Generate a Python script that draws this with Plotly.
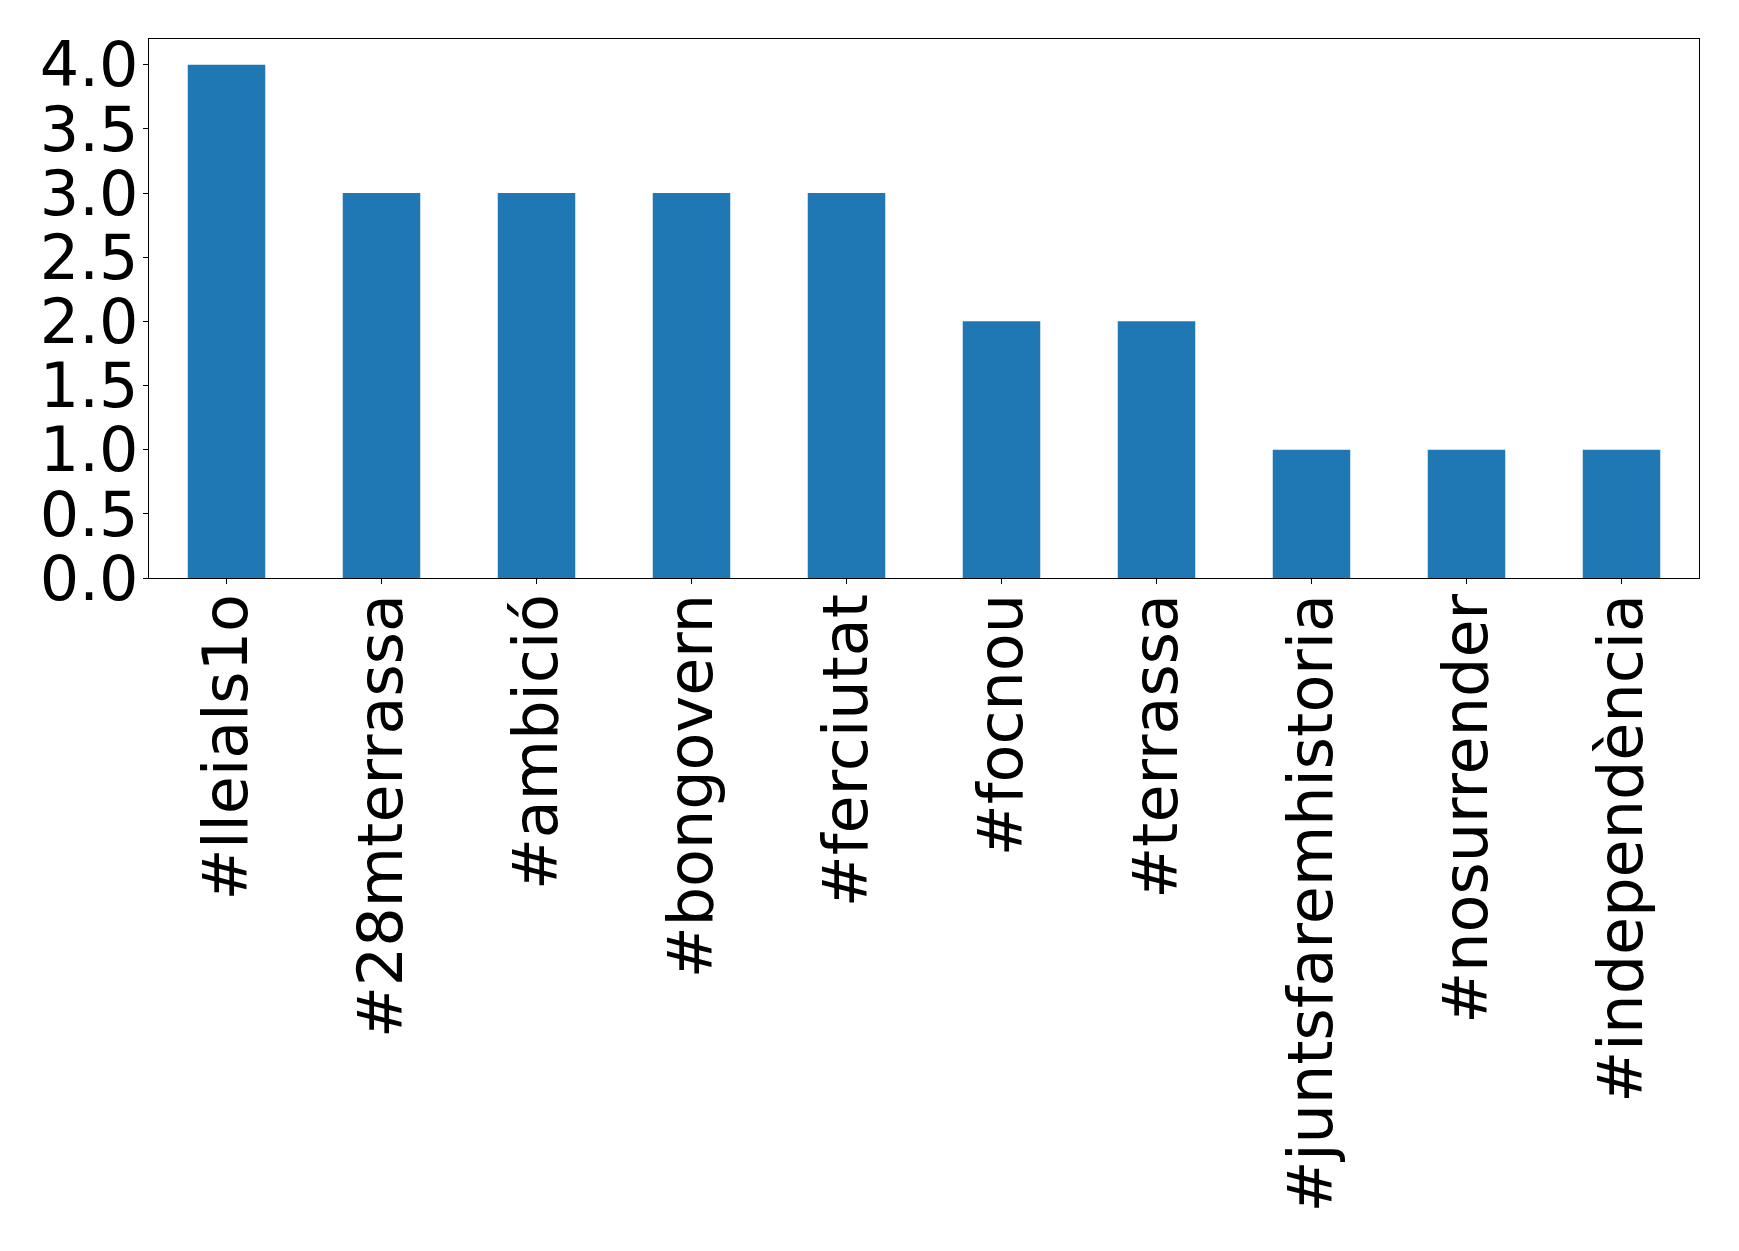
import plotly.graph_objects as go

categories = ["#lleials1o", "#28mterrassa", "#ambició", "#bongovern", "#ferciutat",
              "#focnou", "#terrassa", "#juntsfaremhistoria", "#nosurrender", "#independència"]
counts = [4, 3, 3, 3, 3, 2, 2, 1, 1, 1]
y_ticks = [0.0, 0.5, 1.0, 1.5, 2.0, 2.5, 3.0, 3.5, 4.0]
y_tick_labels = ["0.0", "0.5", "1.0", "1.5", "2.0", "2.5", "3.0", "3.5", "4.0"]

fig = go.Figure(go.Bar(x=categories, y=counts, width=0.5, marker=dict(color="#1f77b4", line=dict(width=0))))

font = dict(family="DejaVu Sans", size=62, color="black")
fig.update_layout(
    width=1739, height=1251,
    margin=dict(l=141, r=48, t=31, b=681, autoexpand=False),
    plot_bgcolor="white", paper_bgcolor="white",
    showlegend=False,
    font=font,
)
fig.update_xaxes(
    type="category", range=[-0.5, 9.5], tickangle=-90, tickfont=font,
    showline=True, linecolor="black", linewidth=1.3, mirror=True,
    ticks="outside", ticklen=5, tickwidth=1.2, tickcolor="black",
    showgrid=False, zeroline=False, ticklabelstandoff=-15, automargin=False,
)
fig.update_yaxes(
    range=[0, 4.2], tickvals=y_ticks, ticktext=y_tick_labels, tickfont=font,
    showline=True, linecolor="black", linewidth=1.3, mirror=True,
    ticks="outside", ticklen=5, tickwidth=1.2, tickcolor="black",
    showgrid=False, zeroline=False, ticklabelstandoff=-8, automargin=False,
)
fig.write_html("out.html")
